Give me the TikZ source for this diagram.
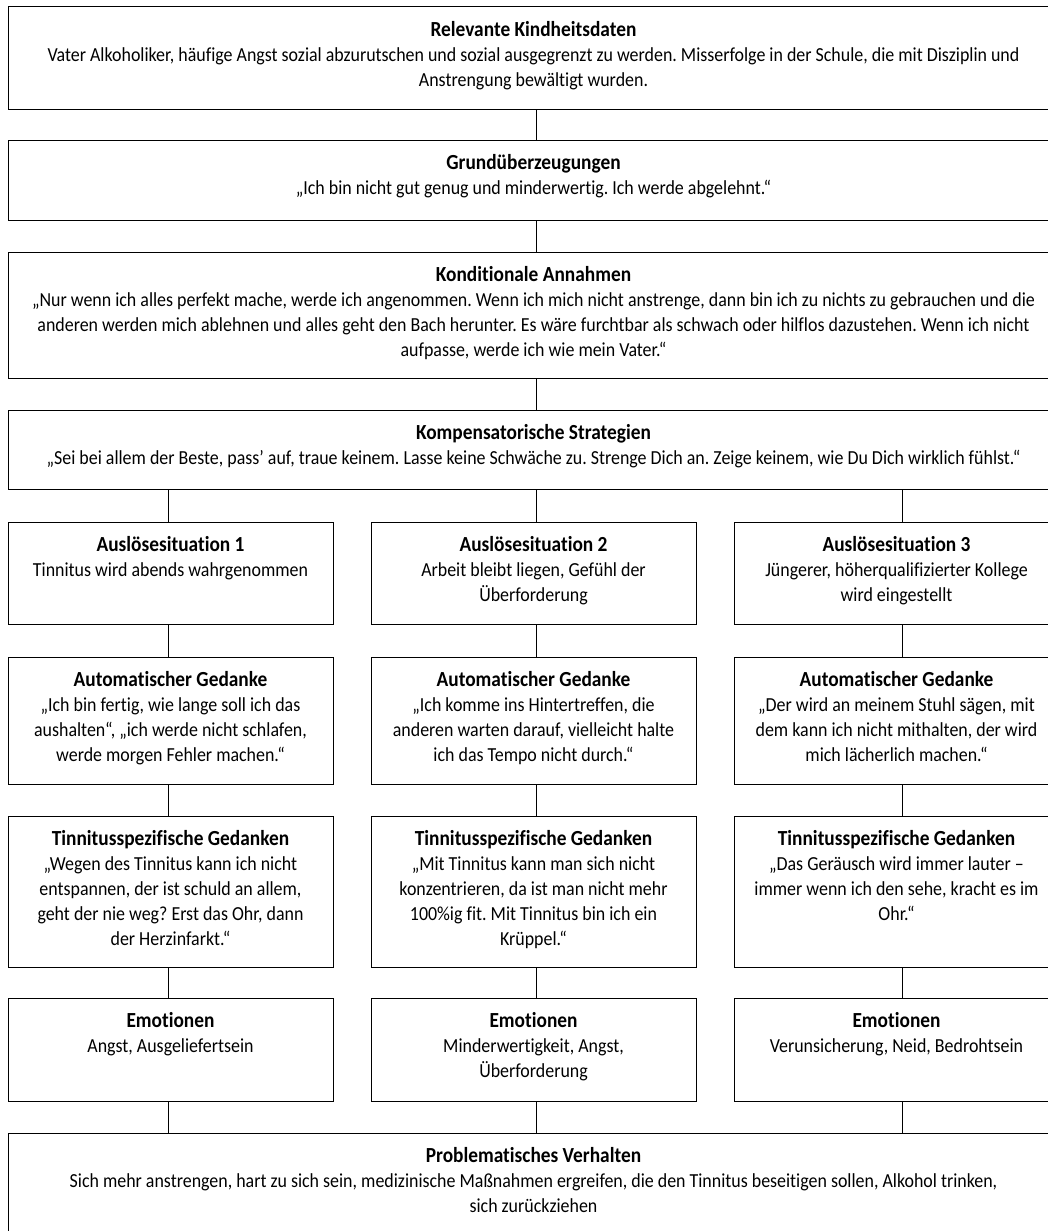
\documentclass[tikz,border=0pt]{standalone}
\usepackage{fontspec}
\setmainfont[Ligatures=NoCommon, FakeStretch=0.9]{Carlito}
\newlength\reflen
\begin{document}
\frenchspacing
\settowidth\reflen{\fontsize{10pt}{12pt}\selectfont Vater Alkoholiker, häufige Angst sozial abzurutschen und sozial ausgegrenzt zu werden. Misserfolge in der Schule, die mit Disziplin und}%
\pgfmathsetmacro\fsz{10*972/\reflen}%
\pgfmathsetmacro\tsz{1.08*\fsz}%
\begin{tikzpicture}[x=1pt,y=-1pt]
\tikzset{
  box/.style={draw=black, line width=1pt, rectangle, inner sep=0pt},
  fullbox/.style={box, minimum width=1051pt},
  colbox/.style={box, minimum width=325pt},
  txt/.style={font=\frenchspacing\fontsize{\fsz pt}{25pt}\selectfont, align=center, inner sep=0pt, anchor=north, text=black},
  conn/.style={draw=black, line width=1pt}
}
\useasboundingbox (0,0) rectangle (1048,1231);
\clip (0,0) rectangle (1048,1231);
\fill[white] (0,0) rectangle (1048,1231);
\newcommand\ttl[1]{{\fontsize{\tsz pt}{25pt}\selectfont\bfseries\rule{0pt}{18pt}#1}}

\coordinate (mx) at (536,0);
\coordinate (c1) at (168,0);
\coordinate (c2) at (536,0);
\coordinate (c3) at (902,0);

% full-width boxes
\node[fullbox, minimum height=102pt] (kd) at (533.5,58) {};
\node[txt] (kdt) at ([yshift=-11.5pt]kd.north) {\ttl{Relevante Kindheitsdaten}\\
Vater Alkoholiker, häufige Angst sozial abzurutschen und sozial ausgegrenzt zu werden. Misserfolge in der Schule, die mit Disziplin und\\
Anstrengung bewältigt wurden.};

\node[fullbox, minimum height=80pt] (gu) at (533.5,180) {};
\node[txt] (gut) at ([yshift=-11.5pt]gu.north) {\ttl{Grundüberzeugungen}\\
„Ich bin nicht gut genug und minderwertig. Ich werde abgelehnt.“};

\node[fullbox, minimum height=126pt] (ka) at (533.5,315) {};
\node[txt] (kat) at ([yshift=-11.5pt]ka.north) {\ttl{Konditionale Annahmen}\\
„Nur wenn ich alles perfekt mache, werde ich angenommen. Wenn ich mich nicht anstrenge, dann bin ich zu nichts zu gebrauchen und die\\
anderen werden mich ablehnen und alles geht den Bach herunter. Es wäre furchtbar als schwach oder hilflos dazustehen. Wenn ich nicht\\
aufpasse, werde ich wie mein Vater.“};

\node[fullbox, minimum height=79pt] (ks) at (533.5,449.5) {};
\node[txt] (kst) at ([yshift=-11.5pt]ks.north) {\ttl{Kompensatorische Strategien}\\
„Sei bei allem der Beste, pass’ auf, traue keinem. Lasse keine Schwäche zu. Strenge Dich an. Zeige keinem, wie Du Dich wirklich fühlst.“};

% row A
\node[colbox, minimum height=102pt] (a1) at (170.5,573) {};
\node[txt] (a1t) at ([yshift=-11.5pt]a1.north) {\ttl{Auslösesituation 1}\\Tinnitus wird abends wahrgenommen};
\node[colbox, minimum height=102pt] (a2) at (533.5,573) {};
\node[txt] (a2t) at ([yshift=-11.5pt]a2.north) {\ttl{Auslösesituation 2}\\Arbeit bleibt liegen, Gefühl der\\Überforderung};
\node[colbox, minimum height=102pt] (a3) at (896.5,573) {};
\node[txt] (a3t) at ([yshift=-11.5pt]a3.north) {\ttl{Auslösesituation 3}\\Jüngerer, höherqualifizierter Kollege\\wird eingestellt};

% row B
\node[colbox, minimum height=127pt] (b1) at (170.5,720.5) {};
\node[txt] (b1t) at ([yshift=-11.5pt]b1.north) {\ttl{Automatischer Gedanke}\\„Ich bin fertig, wie lange soll ich das\\aushalten“, „ich werde nicht schlafen,\\werde morgen Fehler machen.“};
\node[colbox, minimum height=127pt] (b2) at (533.5,720.5) {};
\node[txt] (b2t) at ([yshift=-11.5pt]b2.north) {\ttl{Automatischer Gedanke}\\„Ich komme ins Hintertreffen, die\\anderen warten darauf, vielleicht halte\\ich das Tempo nicht durch.“};
\node[colbox, minimum height=127pt] (b3) at (896.5,720.5) {};
\node[txt] (b3t) at ([yshift=-11.5pt]b3.north) {\ttl{Automatischer Gedanke}\\„Der wird an meinem Stuhl sägen, mit\\dem kann ich nicht mithalten, der wird\\mich lächerlich machen.“};

% row C
\node[colbox, minimum height=151pt] (t1) at (170.5,891.5) {};
\node[txt] (t1t) at ([yshift=-11.5pt]t1.north) {\ttl{Tinnitusspezifische Gedanken}\\„Wegen des Tinnitus kann ich nicht\\entspannen, der ist schuld an allem,\\geht der nie weg? Erst das Ohr, dann\\der Herzinfarkt.“};
\node[colbox, minimum height=151pt] (t2) at (533.5,891.5) {};
\node[txt] (t2t) at ([yshift=-11.5pt]t2.north) {\ttl{Tinnitusspezifische Gedanken}\\„Mit Tinnitus kann man sich nicht\\konzentrieren, da ist man nicht mehr\\100\%ig fit. Mit Tinnitus bin ich ein\\Krüppel.“};
\node[colbox, minimum height=151pt] (t3) at (896.5,891.5) {};
\node[txt] (t3t) at ([yshift=-11.5pt]t3.north) {\ttl{Tinnitusspezifische Gedanken}\\„Das Geräusch wird immer lauter –\\immer wenn ich den sehe, kracht es im\\Ohr.“};

% row D
\node[colbox, minimum height=103pt] (e1) at (170.5,1049.5) {};
\node[txt] (e1t) at ([yshift=-11.5pt]e1.north) {\ttl{Emotionen}\\Angst, Ausgeliefertsein};
\node[colbox, minimum height=103pt] (e2) at (533.5,1049.5) {};
\node[txt] (e2t) at ([yshift=-11.5pt]e2.north) {\ttl{Emotionen}\\Minderwertigkeit, Angst,\\Überforderung};
\node[colbox, minimum height=103pt] (e3) at (896.5,1049.5) {};
\node[txt] (e3t) at ([yshift=-11.5pt]e3.north) {\ttl{Emotionen}\\Verunsicherung, Neid, Bedrohtsein};

% bottom
\node[fullbox, minimum height=127pt] (pv) at (533.5,1196.5) {};
\node[txt] (pvt) at ([yshift=-11.5pt]pv.north) {\ttl{Problematisches Verhalten}\\
Sich mehr anstrengen, hart zu sich sein, medizinische Maßnahmen ergreifen, die den Tinnitus beseitigen sollen, Alkohol trinken,\\
sich zurückziehen};

% connectors
\draw[conn] (kd.south -| mx) -- (gu.north -| mx);
\draw[conn] (gu.south -| mx) -- (ka.north -| mx);
\draw[conn] (ka.south -| mx) -- (ks.north -| mx);
\draw[conn] (ks.south -| c1) -- (a1.north -| c1);
\draw[conn] (ks.south -| c2) -- (a2.north -| c2);
\draw[conn] (ks.south -| c3) -- (a3.north -| c3);
\draw[conn] (a1.south -| c1) -- (b1.north -| c1);
\draw[conn] (a2.south -| c2) -- (b2.north -| c2);
\draw[conn] (a3.south -| c3) -- (b3.north -| c3);
\draw[conn] (b1.south -| c1) -- (t1.north -| c1);
\draw[conn] (b2.south -| c2) -- (t2.north -| c2);
\draw[conn] (b3.south -| c3) -- (t3.north -| c3);
\draw[conn] (t1.south -| c1) -- (e1.north -| c1);
\draw[conn] (t2.south -| c2) -- (e2.north -| c2);
\draw[conn] (t3.south -| c3) -- (e3.north -| c3);
\draw[conn] (e1.south -| c1) -- (pv.north -| c1);
\draw[conn] (e2.south -| c2) -- (pv.north -| c2);
\draw[conn] (e3.south -| c3) -- (pv.north -| c3);
\end{tikzpicture}
\end{document}
